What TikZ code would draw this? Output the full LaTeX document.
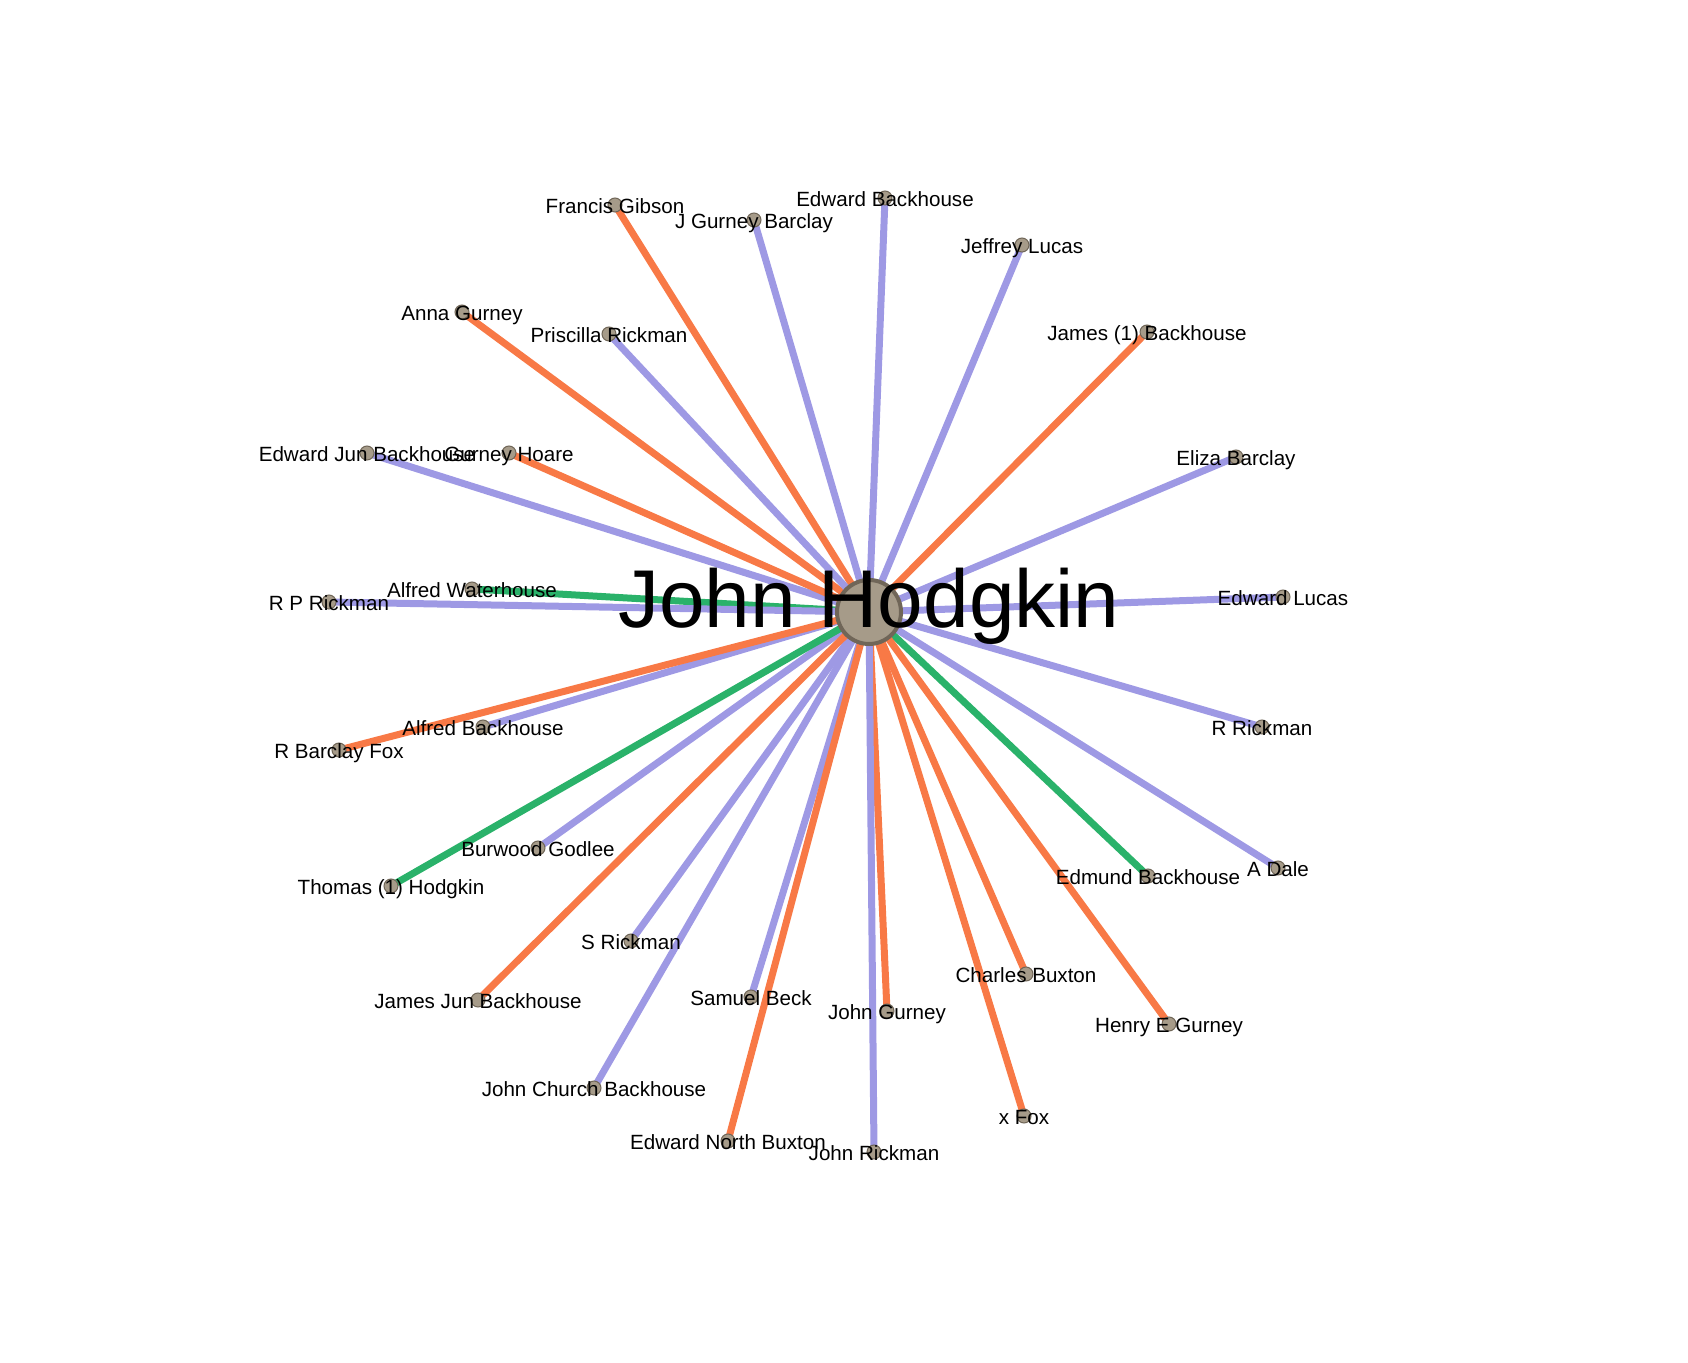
\documentclass[tikz,border=0pt]{standalone}
\usepackage{fontspec}
\setmainfont{Liberation Sans}
\usepackage{xcolor}
\usetikzlibrary{backgrounds}

\definecolor{kinblue}{RGB}{158,153,228}
\definecolor{kinorange}{RGB}{248,121,70}
\definecolor{kingreen}{RGB}{42,178,106}
\definecolor{dotfill}{RGB}{166,155,137}
\definecolor{dotedge}{RGB}{112,102,88}

\tikzset{
  person/.style={circle,draw=dotedge,fill=dotfill,line width=0.5pt,minimum size=7pt,inner sep=0pt},
  hub/.style={circle,draw=dotedge,fill=dotfill,line width=2pt,minimum size=32pt,inner sep=0pt},
  tag/.style={anchor=base,yshift=-4.2pt,inner sep=0pt,font=\fontsize{10.3}{12}\selectfont},
  bigtag/.style={anchor=base,yshift=-8pt,inner sep=0pt,font=\fontsize{41}{48}\selectfont},
  tieb/.style={kinblue,line width=3.5pt},
  tieo/.style={kinorange,line width=3.5pt},
  tieg/.style={kingreen,line width=3.5pt}
}

\begin{document}
\begin{tikzpicture}[x=0.5pt,y=-0.5pt]
  \useasboundingbox (0,0) rectangle (1688,1363);

  \node[hub] (jh) at (869,612) {};

  \node[person] (fg)   at (615,205)  {};
  \node[person] (jgb)  at (754,220)  {};
  \node[person] (eb)   at (885,198)  {};
  \node[person] (jl)   at (1022,245) {};
  \node[person] (j1b)  at (1147,332) {};
  \node[person] (ag)   at (462,312)  {};
  \node[person] (pr)   at (609,334)  {};
  \node[person] (ejb)  at (367,453)  {};
  \node[person] (gh)   at (509,453)  {};
  \node[person] (elb)  at (1236,457) {};
  \node[person] (aw)   at (472,589)  {};
  \node[person] (rpr)  at (329,602)  {};
  \node[person] (el)   at (1283,597) {};
  \node[person] (ab)   at (483,727)  {};
  \node[person] (rbf)  at (339,750)  {};
  \node[person] (rr)   at (1262,727) {};
  \node[person] (bg)   at (538,848)  {};
  \node[person] (t1h)  at (391,886)  {};
  \node[person] (edb)  at (1148,876) {};
  \node[person] (ad)   at (1278,868) {};
  \node[person] (sr)   at (631,941)  {};
  \node[person] (sb)   at (751,997)  {};
  \node[person] (jjb)  at (478,1000) {};
  \node[person] (cb)   at (1026,974) {};
  \node[person] (jg)   at (887,1011) {};
  \node[person] (heg)  at (1169,1024) {};
  \node[person] (jcb)  at (594,1088) {};
  \node[person] (xf)   at (1024,1116) {};
  \node[person] (enb)  at (728,1141) {};
  \node[person] (jr)   at (874,1152) {};

  \begin{scope}[on background layer]
    \draw[tieo] (jh.center) -- (fg.center);
    \draw[tieb] (jh.center) -- (jgb.center);
    \draw[tieb] (jh.center) -- (eb.center);
    \draw[tieb] (jh.center) -- (jl.center);
    \draw[tieo] (jh.center) -- (j1b.center);
    \draw[tieo] (jh.center) -- (ag.center);
    \draw[tieb] (jh.center) -- (pr.center);
    \draw[tieb] (jh.center) -- (ejb.center);
    \draw[tieo] (jh.center) -- (gh.center);
    \draw[tieb] (jh.center) -- (elb.center);
    \draw[tieg] (jh.center) -- (aw.center);
    \draw[tieb] (jh.center) -- (rpr.center);
    \draw[tieb] (jh.center) -- (el.center);
    \draw[tieb] (jh.center) -- (ab.center);
    \draw[tieo] (jh.center) -- (rbf.center);
    \draw[tieb] (jh.center) -- (rr.center);
    \draw[tieb] (jh.center) -- (bg.center);
    \draw[tieg] (jh.center) -- (t1h.center);
    \draw[tieg] (jh.center) -- (edb.center);
    \draw[tieb] (jh.center) -- (ad.center);
    \draw[tieb] (jh.center) -- (sr.center);
    \draw[tieb] (jh.center) -- (sb.center);
    \draw[tieo] (jh.center) -- (jjb.center);
    \draw[tieo] (jh.center) -- (cb.center);
    \draw[tieo] (jh.center) -- (jg.center);
    \draw[tieo] (jh.center) -- (heg.center);
    \draw[tieb] (jh.center) -- (jcb.center);
    \draw[tieo] (jh.center) -- (xf.center);
    \draw[tieo] (jh.center) -- (enb.center);
    \draw[tieb] (jh.center) -- (jr.center);
  \end{scope}

  \node[tag] (tfg)  at (fg)  {Francis Gibson};
  \node[tag] (tjgb) at (jgb) {J Gurney Barclay};
  \node[tag] (teb)  at (eb)  {Edward Backhouse};
  \node[tag] (tjl)  at (jl)  {Jeffrey Lucas};
  \node[tag] (tj1b) at (j1b) {James (1) Backhouse};
  \node[tag] (tag)  at (ag)  {Anna Gurney};
  \node[tag] (tpr)  at (pr)  {Priscilla Rickman};
  \node[tag] (tejb) at (ejb) {Edward Jun Backhouse};
  \node[tag] (tgh)  at (gh)  {Gurney Hoare};
  \node[tag] (telb) at (elb) {Eliza Barclay};
  \node[tag] (taw)  at (aw)  {Alfred Waterhouse};
  \node[tag] (trpr) at (rpr) {R P Rickman};
  \node[tag] (tel)  at (el)  {Edward Lucas};
  \node[tag] (tab)  at (ab)  {Alfred Backhouse};
  \node[tag] (trbf) at (rbf) {R Barclay Fox};
  \node[tag] (trr)  at (rr)  {R Rickman};
  \node[tag] (tbg)  at (bg)  {Burwood Godlee};
  \node[tag] (tt1h) at (t1h) {Thomas (1) Hodgkin};
  \node[tag] (tedb) at (edb) {Edmund Backhouse};
  \node[tag] (tad)  at (ad)  {A Dale};
  \node[tag] (tsr)  at (sr)  {S Rickman};
  \node[tag] (tsb)  at (sb)  {Samuel Beck};
  \node[tag] (tjjb) at (jjb) {James Jun Backhouse};
  \node[tag] (tcb)  at (cb)  {Charles Buxton};
  \node[tag] (tjg)  at (jg)  {John Gurney};
  \node[tag] (theg) at (heg) {Henry E Gurney};
  \node[tag] (tjcb) at (jcb) {John Church Backhouse};
  \node[tag] (txf)  at (xf)  {x Fox};
  \node[tag] (tenb) at (enb) {Edward North Buxton};
  \node[tag] (tjr)  at (jr)  {John Rickman};

  \node[bigtag] (tjh) at (jh) {John Hodgkin};
\end{tikzpicture}
\end{document}
